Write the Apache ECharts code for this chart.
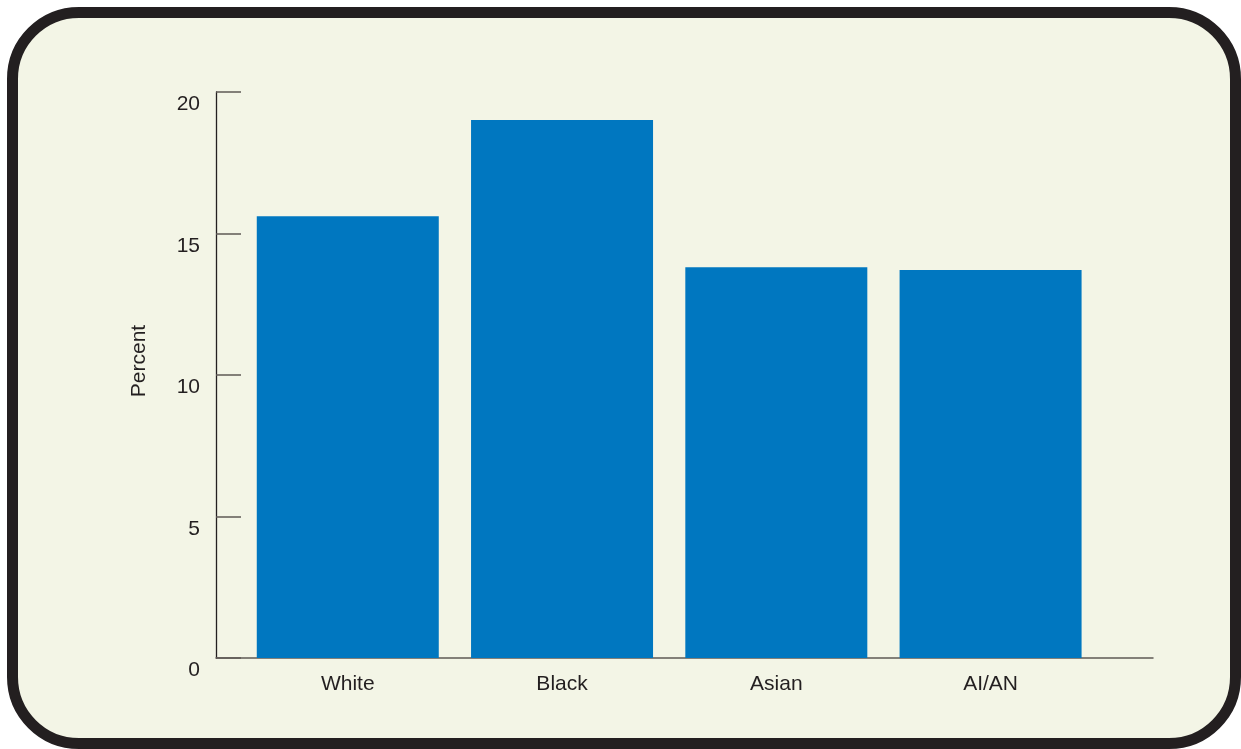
<!DOCTYPE html>
<html>
<head>
<meta charset="utf-8">
<script src="https://cdn.jsdelivr.net/npm/echarts@6/dist/echarts.min.js"></script>
<style>
html,body{margin:0;padding:0;background:#ffffff;width:1241px;height:749px;overflow:hidden;}
#frame{position:absolute;left:7px;top:7px;width:1212px;height:720px;border:11px solid #231f20;border-radius:72px;background:#f3f5e6;}
#chart{position:absolute;left:0;top:0;width:1241px;height:749px;}
</style>
</head>
<body>
<div id="frame"></div>
<div id="chart"></div>
<script>
const categories = ["White", "Black", "Asian", "AI/AN"];
const values = [15.61, 19.01, 13.81, 13.71];
const yTicks = [0, 5, 10, 15, 20];

const chart = echarts.init(document.getElementById('chart'), null, {renderer: 'canvas'});
const font = 'Liberation Sans, Arial, Helvetica, sans-serif';
chart.setOption({
  backgroundColor: 'transparent',
  animation: false,
  grid: {left: 216, right: 88, top: 92, bottom: 91},
  xAxis: {
    type: 'value',
    min: -0.615,
    max: 3.758,
    splitLine: {show: false},
    axisTick: {show: false},
    axisLine: {show: true, onZero: false, lineStyle: {color: '#5f5a55', width: 1.5}},
    axisLabel: {
      customValues: categories.map((c, i) => i),
      formatter: v => categories[Math.round(v)] || '',
      color: '#231f20', fontFamily: font, fontSize: 21, margin: 16
    }
  },
  yAxis: {
    type: 'value',
    min: 0, max: 20, interval: 5,
    name: 'Percent',
    nameLocation: 'middle',
    nameGap: 66,
    nameTextStyle: {color: '#231f20', fontFamily: font, fontSize: 21, padding: [0, 0, 0, 28]},
    splitLine: {show: false},
    axisLine: {show: true, onZero: false, lineStyle: {color: '#231f20', width: 1.3}},
    axisTick: {show: true, inside: true, length: 25, lineStyle: {color: '#5f5a55', width: 1.5}},
    axisLabel: {
      customValues: yTicks,
      color: '#231f20', fontFamily: font, fontSize: 21, margin: 16,
      verticalAlign: 'top', padding: [2, 0, 0, 0]
    }
  },
  series: [{
    type: 'bar',
    barWidth: 182,
    itemStyle: {color: '#0077c0'},
    data: values.map((v, i) => [i, v])
  }]
});
</script>
</body>
</html>
